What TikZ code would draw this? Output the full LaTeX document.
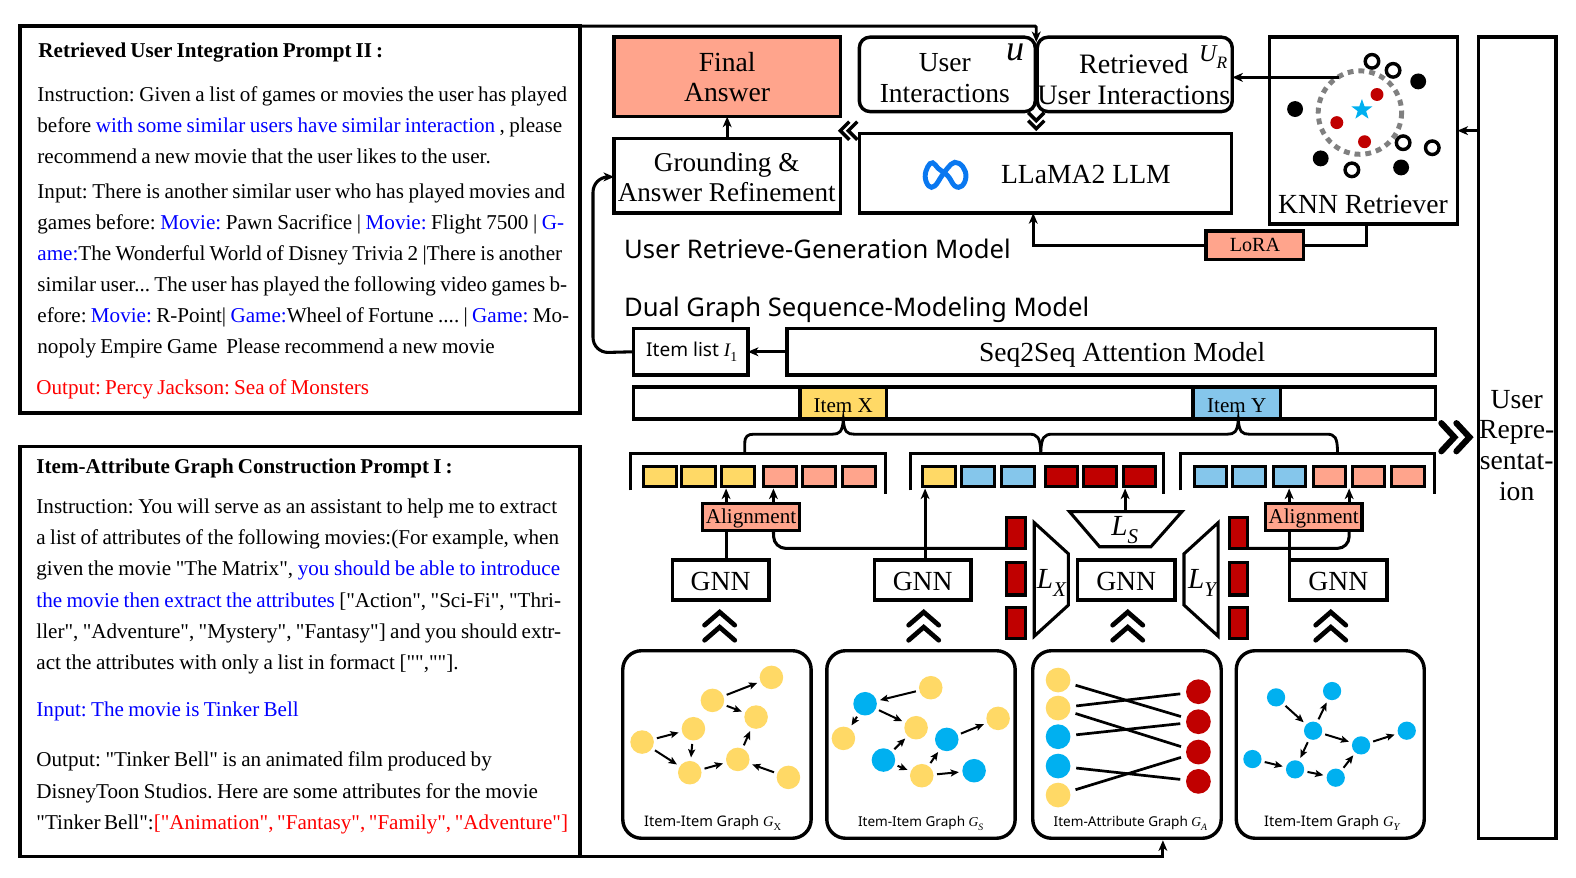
\documentclass[tikz,border=0pt]{standalone}
\usepackage{fontspec}
\setmainfont{Liberation Serif}[Ligatures=TeXOff]
\newfontfamily\sansf{Noto Sans}[Ligatures=TeXOff]
\usetikzlibrary{arrows.meta,calc}
\definecolor{salmon}{HTML}{FFA48C}
\definecolor{yel}{HTML}{FFD966}
\definecolor{ltblue}{HTML}{85C6EB}
\definecolor{dkred}{HTML}{C00000}
\definecolor{nblue}{HTML}{00B0F0}
\definecolor{metablue}{HTML}{0A78F0}
\newcommand{\fs}[2]{\fontsize{\fpeval{#1*0.8536}}{\fpeval{#2*0.8536}}\selectfont}
\newcommand{\tblue}[1]{\textcolor{blue}{#1}}
\newcommand{\tred}[1]{\textcolor{red}{#1}}
\newcommand{\rz}[2]{\raisebox{-#1}[\height][\depth]{#2}}
\newcommand{\lsub}[2]{{\rmfamily\itshape #1\raisebox{-.28em}{\scalebox{.72}{#2}}}}
\newcommand{\tbx}[7]{\node[#1,minimum width={(#5-#3)*0.03cm},minimum height={(#6-#4)*0.03cm}] (#2) at ({(#3+#5)/2},{(#4+#6)/2}) {#7};}
\newcounter{tlc}
\newcommand{\tl}[4]{\stepcounter{tlc}\node[anchor=base west,inner sep=0pt,font=\fs{21}{24}] (tl\thetlc) at (#1,#2) {\frenchspacing\makebox[\fpeval{(#3-#1)*0.8536}pt][s]{#4}};}
\newcommand{\chevup}[2]{\draw[chev] (#1-15,#2+13) -- (#1,#2) -- (#1+15,#2+13);}
\tikzset{
  bx/.style={draw=black,line width=2.9pt,inner sep=0pt,outer sep=0pt,align=center,font=\fs{27.5}{30}},
  rbx/.style={bx,rounded corners=9pt},
  panel/.style={draw=black,line width=3pt,inner sep=0pt,outer sep=0pt},
  lbl/.style={inner sep=0pt,outer sep=0pt},
  cell/.style={draw=black,line width=2.6pt,inner sep=0pt,outer sep=0pt},
  ln/.style={draw=black,line width=2.6pt},
  arr/.style={ln,-{Stealth[length=9pt,width=7.5pt,inset=2.6pt]}},
  thinarr/.style={draw=black,line width=2.5pt,-{Stealth[length=9pt,width=7.5pt,inset=2.6pt]}},
  chev/.style={draw=black,line width=4pt,line cap=round,line join=miter},
  card/.style={draw=black,line width=2.9pt,rounded corners=16pt,inner sep=0pt,outer sep=0pt},
  clabel/.style={inner sep=0pt,anchor=base,font=\sansf\fs{14.5}{16}},
  gn/.style={circle,inner sep=0pt,outer sep=0pt,minimum size=20pt},
  gy/.style={gn,fill=yel},
  gb/.style={gn,fill=nblue},
  ge/.style={draw=black,line width=1.7pt,shorten >=3pt,shorten <=3pt,-{Stealth[length=7pt,width=6pt,inset=1.5pt]}},
  bipl/.style={circle,inner sep=0pt,outer sep=0pt,minimum size=21pt},
  bipe/.style={draw=black,line width=2.3pt,shorten >=5pt,shorten <=5pt},
}
\begin{document}
\begin{tikzpicture}[x=0.03cm,y=-0.03cm]
\useasboundingbox (0,0) rectangle (1568,872.6);

% ---------- left panels
\tbx{panel}{panelA}{20}{26}{577}{411}{}
\tbx{panel}{panelB}{20}{444}{577}{852}{}

\node[anchor=base west,inner sep=0pt,font=\fs{21}{24}\bfseries] (headA) at (38,57) {\frenchspacing\makebox[\fpeval{343*0.8536}pt][s]{Retrieved User Integration Prompt II :}};
\tl{37}{101}{564}{Instruction: Given a list of games or movies the user has played}
\tl{37}{132}{559}{before \tblue{with some similar users have similar interaction} , please}
\tl{37}{163}{488}{recommend a new movie that the user likes to the user.}
\tl{37}{197}{562}{Input: There is another similar user who has played movies and}
\tl{37}{228}{561}{games before: \tblue{Movie:} Pawn Sacrifice | \tblue{Movie:} Flight 7500 | \tblue{G-}}
\tl{37}{259}{559}{\tblue{ame:}The Wonderful World of Disney Trivia 2 |There is another}
\tl{37}{290}{564}{similar user... The user has played the following video games b-}
\tl{37}{321}{566}{efore: \tblue{Movie:} R-Point| \tblue{Game:}Wheel of Fortune .... | \tblue{Game:} Mo-}
\tl{37}{352}{492}{nopoly Empire Game \ Please recommend a new movie}
\tl{36}{392}{367}{\tred{Output: Percy Jackson: Sea of Monsters}}

\node[anchor=base west,inner sep=0pt,font=\fs{21}{24}\bfseries] (headB) at (36,471) {\frenchspacing\makebox[\fpeval{414*0.8536}pt][s]{Item-Attribute Graph Construction Prompt I :}};
\tl{36}{511}{554}{Instruction: You will serve as an assistant to help me to extract}
\tl{36}{542}{556}{a list of attributes of the following movies:(For example, when}
\tl{36}{573}{557}{given the movie "The Matrix", \tblue{you should be able to introduce}}
\tl{36}{604}{558}{\tblue{the movie then extract the attributes} ["Action", "Sci-Fi", "Thri-}
\tl{36}{635}{558}{ller", "Adventure", "Mystery", "Fantasy"] and you should extr-}
\tl{36}{666}{456}{act the attributes with only a list in formact ["",""].}
\tl{36}{713}{297}{\tblue{Input: The movie is Tinker Bell}}
\tl{36}{763}{489}{Output: "Tinker Bell" is an animated film produced by}
\tl{36}{794}{535}{DisneyToon Studios. Here are some attributes for the movie}
\tl{36}{825}{565}{"Tinker Bell":\tred{["Animation", "Fantasy", "Family", "Adventure"]}}

% ---------- top row
\tbx{bx,fill=salmon}{final}{611}{37}{836}{116}{Final\\Answer}
\tbx{bx}{ground}{611}{138}{836}{212}{}
\node[lbl,align=center,font=\fs{27}{30}] (groundt) at (723,176.5) {Grounding \&\\Answer Refinement};
\tbx{rbx}{userint}{855}{37}{1030}{111}{}
\node[lbl,align=center,font=\fs{27.4}{31}] (userintt) at (940,77.5) {User\\Interactions};
\tbx{rbx}{retr}{1032}{37}{1226}{111}{}
\node[lbl,align=center,font=\fs{28}{31}] (retrt) at (1128,79) {Retrieved\\User Interactions};
\tbx{bx}{llama}{855}{133}{1225}{212}{}
\node[lbl,anchor=base west,font=\fs{27.5}{30}] (llamat) at (996,183) {LLaMA2 LLM};
\draw[metablue,line width=4.2pt] plot[smooth cycle,tension=0.7] coordinates {(934,168) (928,162) (923,166) (920.5,176) (924,185) (930,185) (937,175) (943,167) (950,161.5) (958,166) (961,176) (957,185) (950,185) (943,175)};
\node[lbl,font=\fs{36}{38}] (uu) at (1010,52) {\rmfamily\itshape u};
\node[lbl,font=\fs{24}{26}] (ur) at (1207,57) {\lsub{U}{R}};

\tbx{bx}{knn}{1263}{37}{1450}{223}{}
\node[lbl,anchor=base,font=\fs{27.5}{30}] (knnt) at (1356,212) {KNN Retriever};
\draw[black!50,line width=4.2pt,dash pattern=on 5pt off 4.2pt] (1353,112) circle (41.5);
\foreach \n/\x/\y in {o1/1365/61,o2/1386/70,o3/1396/142,o4/1425/147,o5/1345/169}
  \node[circle,draw=black,fill=white,line width=2.9pt,minimum size=11.5pt,inner sep=0pt] (\n) at (\x,\y) {};
\foreach \n/\x/\y in {b1/1411/81,b2/1288.5/108.5,b3/1314/157.6,b4/1394/166.6}
  \node[circle,fill=black,minimum size=13.5pt,inner sep=0pt] (\n) at (\x,\y) {};
\foreach \n/\x/\y in {r1/1370/94,r2/1330/122,r3/1357.6/141}
  \node[circle,fill=dkred,minimum size=11pt,inner sep=0pt] (\n) at (\x,\y) {};
\fill[nblue] (1355,98.5) -- (1357.6,105.8) -- (1365.5,105.8) -- (1359.2,110.6) -- (1361.5,118) -- (1355,113.6) -- (1348.5,118) -- (1350.8,110.6) -- (1344.5,105.8) -- (1352.4,105.8) -- cycle;

\tbx{bx}{userrep}{1471}{37}{1548}{834}{}
\node[lbl,align=center,font=\fs{27.5}{30.5}] (userrept) at (1509,443) {User\\Repre-\\sentat-\\ion};

\tbx{bx,fill=salmon,line width=2.9pt,font=\fs{20}{22}}{lora}{1200}{230}{1297}{258}{LoRA}

\node[lbl,anchor=base west,font=\sansf\fs{25.5}{28}] (h1) at (621,257) {User Retrieve-Generation Model};
\node[lbl,anchor=base west,font=\sansf\fs{25.5}{28}] (h2) at (621,315) {Dual Graph Sequence-Modeling Model};

% connectors of the top row
\coordinate (topA) at (1031,26);
\coordinate (topB) at (1031,42);
\draw[thinarr,rounded corners=1pt] (panelA.north east) -- (topA) -- (topB);
\coordinate (botA) at (1157,852);
\coordinate (botB) at (1157,836);
\draw[arr] (panelB.south east) -- (botA) -- (botB);
\draw[arr] (ground.north) -- (final.south);
\coordinate (kst) at (1332,77);
\draw[arr] (kst) -- (retr.east |- kst);
\coordinate (loraA) at (1360,244);
\draw[ln] (knn.south -| loraA) -- (loraA) -- (lora.east);
\coordinate (loraB) at (1028,244);
\draw[arr] (lora.west) -- (loraB) -- (llama.south -| loraB);
\coordinate (urS) at (1471,130);
\draw[arr] (urS) -- (knn.east |- urS);

% chevrons
\draw[draw=black,line width=2.9pt] (1023,112) -- (1031,120) -- (1039,112);
\draw[draw=black,line width=2.9pt] (1023,120) -- (1031,128) -- (1039,120);
\draw[draw=black,line width=2.9pt] (845,121) -- (836,130) -- (845,139);
\draw[draw=black,line width=2.9pt] (853,121) -- (844,130) -- (853,139);
\draw[chev,line width=5.2pt] (1434,421) -- (1447,435) -- (1434,449);
\draw[chev,line width=5.2pt] (1449,421) -- (1462,435) -- (1449,449);
\chevup{716}{609}\chevup{716}{624}
\chevup{919}{609}\chevup{919}{624}
\chevup{1122}{609}\chevup{1122}{624}
\chevup{1324}{609}\chevup{1324}{624}

% ---------- sequence part
\tbx{bx,font=\sansf\fs{19}{22}}{ilist}{630}{327}{744}{373}{\hspace*{2pt}Item list \lsub{I}{\upshape 1}}
\tbx{bx}{seq}{783}{327}{1428}{373}{}
\node[lbl,anchor=base,font=\fs{27.4}{30}] (seqt) at (1116.5,360) {Seq2Seq Attention Model};
\tbx{bx}{bar}{630}{385}{1428}{417}{}
\tbx{bx,fill=yel,font=\fs{21}{24}}{itemx}{796}{385}{882}{417}{\rz{2.5pt}{Item X}}
\tbx{bx,fill=ltblue,font=\fs{21}{24}}{itemy}{1187}{385}{1274}{417}{\rz{2.5pt}{Item Y}}
\draw[arr] (seq.west) -- (ilist.east);
\coordinate (gA) at (590,351);
\coordinate (gB) at (590,176);
\draw[arr,rounded corners=13pt] (ilist.west) -- (gA) -- (gB) -- (ground.west |- gB);

% braces
\draw[ln,line width=2.4pt] (741,450) -- (741,441) .. controls (741,434) and (744,432) .. (750,432) -- (828,432) .. controls (835,432) and (838,430) .. (839,418) .. controls (840,430) and (843,432) .. (850,432) -- (1024,432) .. controls (1032,432) and (1035,435) .. (1035.5,450);
\draw[ln,line width=2.4pt] (1035.5,450) .. controls (1036,435) and (1039,432) .. (1047,432) -- (1221,432) .. controls (1228,432) and (1231,430) .. (1232,418) .. controls (1233,430) and (1236,432) .. (1243,432) -- (1320,432) .. controls (1328,432) and (1330.7,435) .. (1330.7,450);

% trays
\draw[ln] (627.5,488) -- (627.5,451.5) -- (880.6,451.5) -- (880.6,491);
\draw[ln] (905.5,488) -- (905.5,451.5) -- (1158,451.5) -- (1158,491);
\draw[ln] (1174.8,488) -- (1174.8,451.5) -- (1427,451.5) -- (1427,491);

% cells
\tbx{cell,fill=yel}{ca1}{640}{464}{672.6}{484}{}
\tbx{cell,fill=yel}{ca2}{678}{464}{711.4}{484}{}
\tbx{cell,fill=yel}{ca3}{718}{464}{751}{484}{}
\tbx{cell,fill=salmon}{ca4}{760}{464}{792.7}{484}{}
\tbx{cell,fill=salmon}{ca5}{798.7}{464}{831}{484}{}
\tbx{cell,fill=salmon}{ca6}{838.5}{464}{871}{484}{}
\tbx{cell,fill=yel}{cb1}{918}{464}{950.6}{484}{}
\tbx{cell,fill=ltblue}{cb2}{956.6}{464}{989}{484}{}
\tbx{cell,fill=ltblue}{cb3}{996}{464}{1029}{484}{}
\tbx{cell,fill=dkred}{cb4}{1039.8}{464}{1072}{484}{}
\tbx{cell,fill=dkred}{cb5}{1078}{464}{1110.4}{484}{}
\tbx{cell,fill=dkred}{cb6}{1117.7}{464}{1150}{484}{}
\tbx{cell,fill=ltblue}{cc1}{1188.4}{464}{1220.6}{484}{}
\tbx{cell,fill=ltblue}{cc2}{1226.5}{464}{1259.4}{484}{}
\tbx{cell,fill=ltblue}{cc3}{1267}{464}{1299}{484}{}
\tbx{cell,fill=salmon}{cc4}{1307}{464}{1339}{484}{}
\tbx{cell,fill=salmon}{cc5}{1345.6}{464}{1377.5}{484}{}
\tbx{cell,fill=salmon}{cc6}{1384.8}{464}{1417}{484}{}

% GNN row
\tbx{bx}{gnn1}{669}{557}{765}{597}{\rz{1.7pt}{GNN}}
\tbx{bx}{gnn2}{870}{557}{966}{597}{\rz{1.7pt}{GNN}}
\tbx{bx}{gnn3}{1072}{557}{1169}{597}{\rz{1.7pt}{GNN}}
\tbx{bx}{gnn4}{1283}{557}{1380}{597}{\rz{1.7pt}{GNN}}
\tbx{bx,fill=salmon,font=\fs{21}{24}}{align1}{699}{501}{795.4}{528}{\rz{1.5pt}{Alignment}}
\tbx{bx,fill=salmon,font=\fs{21}{24}}{align2}{1259}{501}{1355}{528}{\rz{1.5pt}{Alignment}}

% red blocks
\tbx{cell,fill=dkred}{ra1}{1001}{515}{1020}{546}{}
\tbx{cell,fill=dkred}{ra2}{1001}{560}{1020}{592}{}
\tbx{cell,fill=dkred}{ra3}{1001}{604}{1020}{635}{}
\tbx{cell,fill=dkred}{rb1}{1223}{515}{1241}{546}{}
\tbx{cell,fill=dkred}{rb2}{1223}{560}{1241}{592}{}
\tbx{cell,fill=dkred}{rb3}{1223}{604}{1241}{635}{}

% trapezoids
\draw[ln,line width=2.6pt,line join=miter] (1029,520) -- (1063,551) -- (1063,602) -- (1029,633) -- cycle;
\draw[ln,line width=2.6pt,line join=miter] (1212,520) -- (1178,551) -- (1178,602) -- (1212,633) -- cycle;
\draw[ln,line width=2.6pt,line join=miter] (1064,509) -- (1176,509) -- (1145,544) -- (1094,544) -- cycle;
\node[lbl,font=\fs{29}{31}] (lx) at (1046,580) {\lsub{L}{X}};
\node[lbl,font=\fs{29}{31}] (ly) at (1196,580) {\lsub{L}{Y}};
\node[lbl,font=\fs{29}{31}] (ls) at (1119,527) {\lsub{L}{S}};

% connectors of the GNN row
\coordinate (a1) at (722.4,486); \coordinate (a1b) at (722.4,501);
\coordinate (a2) at (769.5,486); \coordinate (a2b) at (769.5,501);
\draw[arr] (a1b) -- (a1);
\draw[arr] (a2b) -- (a2);
\draw[ln] (gnn1.north -| a1) -- (align1.south -| a1);
\coordinate (cv1) at (770,545.6);
\draw[ln,rounded corners=10pt] (align1.south -| a2) -- (cv1) -- (ra1.west |- cv1);
\coordinate (a3) at (920.4,486);
\draw[arr] (gnn2.north -| a3) -- (a3);
\coordinate (a4) at (1119.4,486); \coordinate (a4b) at (1119.4,509);
\draw[arr] (a4b) -- (a4);
\coordinate (a5) at (1282.6,486); \coordinate (a5b) at (1282.6,501);
\coordinate (a6) at (1342.3,486); \coordinate (a6b) at (1342.3,501);
\draw[arr] (a5b) -- (a5);
\draw[arr] (a6b) -- (a6);
\draw[ln] (gnn4.north -| a5) -- (align2.south -| a5);
\coordinate (cv2) at (1342.3,545.6);
\draw[ln,rounded corners=10pt] (align2.south -| a6) -- (cv2) -- (rb1.east |- cv2);

% ---------- graph cards
\tbx{card}{g1}{619.6}{647.4}{807}{834}{}
\tbx{card}{g2}{822.6}{647.4}{1010}{834}{}
\tbx{card}{g3}{1027.5}{647.4}{1215}{834}{}
\tbx{card}{g4}{1230}{647.4}{1417}{834}{}
\node[clabel] (g1t) at (709,822) {Item-Item Graph \lsub{G}{\upshape X}};
\node[clabel,font=\sansf\fs{13.5}{15}] (g2t) at (916,822) {Item-Item Graph \lsub{G}{S}};
\node[clabel,font=\sansf\fs{13.5}{15}] (g3t) at (1124.7,822) {Item-Attribute Graph \lsub{G}{A}};
\node[clabel] (g4t) at (1325,822) {Item-Item Graph \lsub{G}{Y}};

\begin{scope}[shift={(607,636.8)},x=0.00995cm,y=-0.00995cm]
\foreach \n/\x/\y in {A/96/306,B/250/266,C/307/181,D/484/112,E/438/231,F/239/398,G/383/358,H/535/412}
  \node[gy] (x\n) at (\x,\y) {};
\foreach \s/\t in {A/B,A/F,B/F,F/G,G/E,H/G,C/D,C/E}
  \draw[ge] (x\s) -- (x\t);
\foreach \n/\x/\y/\c in {a/765/191/gb,b/962/143/gy,c/700/295/gy,d/918/263/gy,e/820/360/gb,f/935/407/gy,g/1010/298/gb,h/1164/235/gy,i/1092/392/gb}
  \node[\c] (s\n) at (\x,\y) {};
\foreach \s/\t in {b/a,a/c,a/d,e/d,e/f,f/g,g/h,f/i}
  \draw[ge] (s\s) -- (s\t);
\end{scope}

\begin{scope}[shift={(1014.9,636.8)},x=0.00995cm,y=-0.00995cm]
\foreach \n/\y/\c in {1/120/yel,2/204/yel,3/290/nblue,4/378/nblue,5/465/yel}
  \node[bipl,fill=\c] (l\n) at (114,\y) {};
\foreach \n/\y in {1/155,2/245,3/336,4/424}
  \node[bipl,fill=dkred] (q\n) at (535,\y) {};
\foreach \s/\t in {1/2,2/1,2/3,3/2,4/4,5/3}
  \draw[bipe] (l\s) -- (q\t);
\foreach \n/\x/\y in {a/768/172,b/936/153,c/879/272,d/1023/316,e/1160/272,f/697/357,g/825/388,h/947/413}
  \node[gn,fill=nblue,minimum size=15.5pt] (y\n) at (\x,\y) {};
\foreach \s/\t in {a/c,c/b,c/d,d/e,c/g,f/g,g/h,h/d}
  \draw[ge] (y\s) -- (y\t);
\end{scope}
\end{tikzpicture}
\end{document}
